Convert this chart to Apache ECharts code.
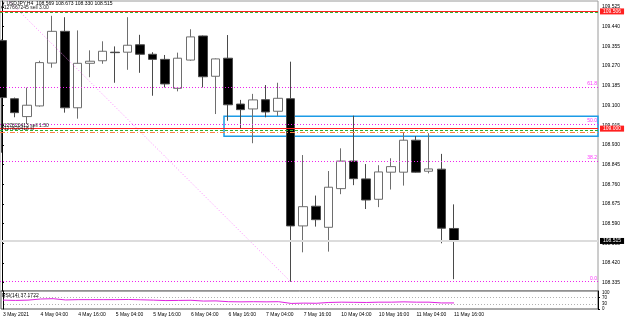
<!DOCTYPE html>
<html>
<head>
<meta charset="utf-8">
<title>USDJPY,H4</title>
<script src="https://cdn.jsdelivr.net/npm/echarts@6/dist/echarts.min.js"></script>
<style>
  html, body { margin: 0; padding: 0; background: #fff; }
  #chart { width: 625px; height: 319px; }
</style>
</head>
<body>
<div id="chart"></div>
<script>
// one bar every 4 hours, bar 0 = 3 May 16:00 (weekend skipped)
var opens  = [109.380, 109.129, 109.052, 109.098, 109.283, 109.420, 109.090, 109.282, 109.293, 109.330,
              109.330, 109.362, 109.321, 109.299, 109.174, 109.296, 109.400, 109.226, 109.304, 109.106,
              109.085, 109.125, 109.075, 109.129, 108.580, 108.665, 108.574, 108.741, 108.860, 108.783,
              108.695, 108.812, 108.812, 108.950, 108.816, 108.825, 108.569];
var highs  = [109.385, 109.134, 109.177, 109.293, 109.487, 109.481, 109.424, 109.338, 109.377, 109.355,
              109.481, 109.405, 109.330, 109.318, 109.328, 109.429, 109.402, 109.303, 109.404, 109.124,
              109.150, 109.188, 109.198, 109.289, 108.886, 108.711, 108.817, 108.915, 109.056, 108.847,
              108.842, 108.872, 108.984, 108.968, 108.980, 108.891, 108.673];
var lows   = [108.896, 109.049, 109.020, 109.095, 109.263, 109.069, 109.043, 109.222, 109.280, 109.198,
              109.254, 109.241, 109.142, 109.178, 109.161, 109.293, 109.178, 109.063, 109.034, 109.002,
              108.937, 109.049, 109.055, 108.339, 108.466, 108.577, 108.469, 108.717, 108.756, 108.653,
              108.661, 108.737, 108.754, 108.810, 108.807, 108.505, 108.350];
var closes = [109.134, 109.069, 109.101, 109.285, 109.420, 109.090, 109.282, 109.291, 109.334, 109.328,
              109.360, 109.321, 109.299, 109.193, 109.304, 109.396, 109.224, 109.301, 109.103, 109.082,
              109.124, 109.072, 109.131, 108.580, 108.663, 108.607, 108.747, 108.860, 108.784, 108.692,
              108.813, 108.836, 108.950, 108.812, 108.826, 108.570, 108.515];

var rsi = [55, 53, 55, 62, 64, 56, 58, 58, 58, 58,
           59, 57, 55, 52, 53, 54, 49, 50, 45, 44,
           45, 44, 45, 34, 36, 35, 40, 42, 41, 40,
           42, 42, 44, 42, 42, 37, 37.17];
var rsiText = 'RSI(14) 37.1722';

var lastQuote = ['108.569', '108.673', '108.330', '108.515'];

var priceTicks = [109.525, 109.440, 109.355, 109.270, 109.185, 109.100, 109.015, 108.930,
                  108.845, 108.760, 108.675, 108.590, 108.505, 108.420, 108.335];
// two label sets so the squeezed RSI labels don't hide each other
var rsiTicksA = [100, 30];
var rsiTicksB = [70, 0];
var rsiLevels = [70, 30];
var timeLabelBars = [0, 3, 6, 9, 12, 15, 18, 21, 24, 27, 30, 33, 36];
var timeLabels = ['3 May 2021', '4 May 04:00', '4 May 16:00', '5 May 04:00', '5 May 16:00',
                  '6 May 04:00', '6 May 16:00', '7 May 04:00', '7 May 16:00', '10 May 04:00',
                  '10 May 16:00', '11 May 04:00', '11 May 16:00'];

// fibo retracement anchors (100 is above the visible area)
var fibHigh = 109.700, fibLow = 108.339;
var fibStartBar = -2.2, fibEndBar = 23;
var fibLevels = [0, 38.2, 50, 61.8];

// trade levels
var order1 = { text: '#127667245 sell 3.00', price: 109.506, open: 109.501 };
var order2 = { text: '#127820413 sell 1.50', price: 109.000, open: 108.995, sl: 108.986, slText: '#127820418 sl' };
var bid = 108.515;

// zone box
var zoneFromBar = 17.69, zoneTop = 109.053, zoneBottom = 108.967;

var FONT = 'Liberation Sans';
var xMin = -0.16, xMax = 47.49;

var chart = echarts.init(document.getElementById('chart'), null, { renderer: 'canvas' });

var candleData = opens.map(function (o, i) {
  return [i, o, closes[i], lows[i], highs[i]];
});
var rsiData = rsi.map(function (v, i) { return [i, v]; });

function priceBox(value, bg) {
  return {
    yAxis: value,
    lineStyle: { color: 'rgba(0,0,0,0)', width: 1 },
    label: {
      show: true, position: 'end', distance: 2,
      formatter: value.toFixed(3),
      color: '#fff', backgroundColor: bg,
      fontSize: 5, fontFamily: FONT, padding: [1, 3, 0, 3]
    }
  };
}

function levelLine(value, color, type, width, text) {
  var item = {
    yAxis: value,
    lineStyle: { color: color, type: type, width: width || 1 },
    label: { show: false }
  };
  if (text) {
    item.label = {
      show: true, position: 'insideStartTop', distance: 1,
      formatter: text, color: '#222', fontSize: 5, fontFamily: FONT
    };
  }
  return item;
}

function rsiAxis(ticks) {
  return {
    type: 'value', gridIndex: 1, position: 'right', min: -1.3, max: 112.7,
    axisLine: { show: true, lineStyle: { color: '#000', width: 1 } },
    axisTick: { show: true, customValues: ticks, length: 2, lineStyle: { color: '#000' } },
    splitLine: { show: false },
    axisLabel: {
      customValues: ticks, margin: 4, fontSize: 4.5, color: '#000', fontFamily: FONT,
      showMinLabel: true, showMaxLabel: true,
      formatter: function (v) { return String(v); }
    }
  };
}

var lineItems = [];
fibLevels.forEach(function (lv) {
  var p = fibLow + (fibHigh - fibLow) * lv / 100;
  lineItems.push({
    yAxis: p,
    lineStyle: { color: '#ee22ee', type: [1, 2], width: 1 },
    label: {
      show: true, position: 'insideEndTop', distance: 1,
      formatter: lv.toFixed(1), color: '#ff33ff', fontSize: 5, fontFamily: FONT
    }
  });
});
lineItems.push(levelLine(bid, '#dcdcdc', 'solid', 2));
lineItems.push(levelLine(order1.price, '#ff2020', 'solid', 1, order1.text));
lineItems.push(levelLine(order1.open, '#30b030', [3, 2], 1));
lineItems.push(levelLine(order2.price, '#ff2020', 'solid', 1, order2.text));
lineItems.push(levelLine(order2.open, '#30b030', [3, 2], 1));
lineItems.push(levelLine(order2.sl, '#ff7f40', [5, 2, 1, 2], 1, order2.slText));
lineItems.push(priceBox(order1.price, '#ff2020'));
lineItems.push(priceBox(order2.price, '#ff2020'));
lineItems.push(priceBox(bid, '#000'));

var option = {
  animation: false,
  backgroundColor: '#fff',
  textStyle: { fontFamily: FONT },
  title: [
    {
      text: '\u25BE USDJPY,H4  ' + lastQuote.join(' '),
      left: 2, top: 1, padding: 0,
      textStyle: { fontSize: 5, fontWeight: 'normal', color: '#000', fontFamily: FONT }
    },
    {
      text: rsiText,
      left: 2, top: 293, padding: 0,
      textStyle: { fontSize: 5, fontWeight: 'normal', color: '#000', fontFamily: FONT }
    }
  ],
  grid: [
    { left: 0, right: 27, top: 1, height: 290, show: true, borderColor: '#9a9a9a', borderWidth: 1, backgroundColor: '#fff' },
    { left: 0, right: 27, top: 291, height: 18, show: true, borderColor: '#555', borderWidth: 1, backgroundColor: '#fff' }
  ],
  xAxis: [
    {
      type: 'value', gridIndex: 0, min: xMin, max: xMax,
      axisLine: { show: false }, axisTick: { show: false },
      axisLabel: { show: false }, splitLine: { show: false }
    },
    {
      type: 'value', gridIndex: 1, min: xMin, max: xMax,
      axisLine: { show: false }, axisTick: { show: false }, splitLine: { show: false },
      axisLabel: {
        show: true, customValues: timeLabelBars, align: 'left', margin: 3,
        fontSize: 5, color: '#000', fontFamily: FONT,
        formatter: function (v) {
          var k = timeLabelBars.indexOf(Math.round(v));
          return k >= 0 ? timeLabels[k] : '';
        }
      }
    }
  ],
  yAxis: [
    {
      type: 'value', gridIndex: 0, position: 'right', min: 108.299, max: 109.551, scale: true,
      axisLine: { show: true, lineStyle: { color: '#000', width: 1 } },
      axisTick: { show: true, customValues: priceTicks, length: 2, lineStyle: { color: '#000' } },
      splitLine: { show: false },
      axisLabel: {
        customValues: priceTicks, margin: 4, fontSize: 5, color: '#000', fontFamily: FONT,
        showMinLabel: true, showMaxLabel: true,
        formatter: function (v) { return v.toFixed(3); }
      }
    },
    rsiAxis(rsiTicksA),
    rsiAxis(rsiTicksB)
  ],
  series: [
    {
      name: 'USDJPY',
      type: 'candlestick',
      xAxisIndex: 0, yAxisIndex: 0,
      barWidth: 9,
      encode: { x: 0, y: [1, 2, 3, 4] },
      data: candleData,
      itemStyle: {
        color: '#ffffff', color0: '#000000',
        borderColor: '#6e6e6e', borderColor0: '#4a4a4a', borderWidth: 1
      },
      z: 2
    },
    {
      name: 'fibo trend',
      type: 'line',
      xAxisIndex: 0, yAxisIndex: 0,
      data: [[fibStartBar, fibHigh], [fibEndBar, fibLow]],
      symbol: 'none',
      clip: true,
      lineStyle: { color: '#ff88ff', type: [1, 2], width: 1 },
      z: 3
    },
    {
      name: 'levels',
      type: 'line',
      xAxisIndex: 0, yAxisIndex: 0,
      data: [],
      z: 5,
      markLine: {
        silent: true, symbol: ['none', 'none'], animation: false,
        precision: 3,
        data: lineItems
      },
      markArea: {
        silent: true,
        itemStyle: { color: 'rgba(0,0,0,0)', borderColor: '#1c9be6', borderWidth: 1.5 },
        data: [[{ coord: [zoneFromBar, zoneTop] }, { coord: [xMax, zoneBottom] }]]
      }
    },
    {
      name: 'RSI(14)',
      type: 'line',
      xAxisIndex: 1, yAxisIndex: 1,
      data: rsiData,
      symbol: 'none',
      lineStyle: { color: '#e020e0', width: 1 },
      markLine: {
        silent: true, symbol: ['none', 'none'],
        lineStyle: { color: '#b0b0b0', type: [1, 2], width: 1 },
        label: { show: false },
        data: rsiLevels.map(function (v) { return { yAxis: v }; })
      }
    }
  ]
};

chart.setOption(option);
</script>
</body>
</html>
